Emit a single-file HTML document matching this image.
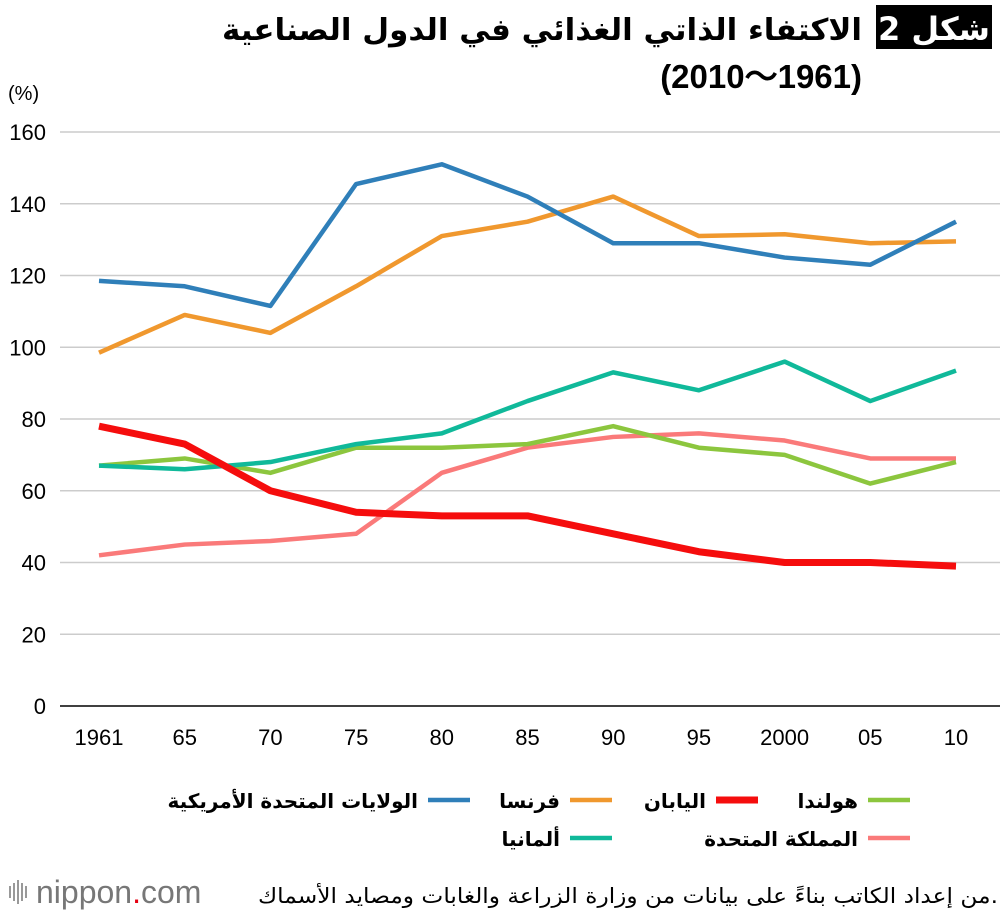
<!DOCTYPE html>
<html><head><meta charset="utf-8"><style>
body{margin:0;background:#fff;width:1000px;height:916px;overflow:hidden}
svg text{font-family:"Liberation Sans","DejaVu Sans",sans-serif}
.ar{font-family:"DejaVu Sans","Noto Sans CJK SC",sans-serif;font-weight:bold}
</style></head><body>
<svg id="c" width="1000" height="916" xmlns="http://www.w3.org/2000/svg">
<rect x="876" y="5" width="116" height="44" fill="#000"/>
<text x="934" y="40" fill="#fff" font-size="32" text-anchor="middle" class="ar">شكل 2</text>
<text x="862" y="40" font-size="30" text-anchor="end" class="ar" textLength="640" lengthAdjust="spacingAndGlyphs">الاكتفاء الذاتي الغذائي في الدول الصناعية</text>
<text x="862" y="88" font-size="33" font-weight="bold" text-anchor="end">(2010〜1961)</text>
<text x="8" y="100" font-size="20">(%)</text>
<g id="grid"></g><g id="xt"></g><g id="lines"></g>
<g id="legend"></g>
<g>
<g stroke="#999" stroke-width="2"><line x1="10" y1="886" x2="10" y2="898"/><line x1="14" y1="883" x2="14" y2="901"/><line x1="18" y1="880" x2="18" y2="904"/><line x1="22" y1="883" x2="22" y2="901"/><line x1="26" y1="886" x2="26" y2="898"/></g>
<text x="36" y="903" font-size="32" fill="#777">nippon<tspan fill="#e60012">.</tspan>com</text></g>
<text x="998" y="903" font-size="21" text-anchor="end" class="ar" style="font-weight:normal" textLength="740" lengthAdjust="spacingAndGlyphs">من إعداد الكاتب بناءً على بيانات من وزارة الزراعة والغابات ومصايد الأسماك.</text>
</svg>
<script>
const categories=["1961","65","70","75","80","85","90","95","2000","05","10"];
const yTicks=[0,20,40,60,80,100,120,140,160];
const usa=[118.5,117,111.5,145.5,151,142,129,129,125,123,135];
const france=[98.5,109,104,117,131,135,142,131,131.5,129,129.5];
const japan=[78,73,60,54,53,53,48,43,40,40,39];
const netherlands=[67,69,65,72,72,73,78,72,70,62,68];
const germany=[67,66,68,73,76,85,93,88,96,85,93.5];
const uk=[42,45,46,48,65,72,75,76,74,69,69];
const NS="http://www.w3.org/2000/svg";
const X=i=>99+i*85.7, Y=v=>706-v*574/160;
function mk(t,a,p){const e=document.createElementNS(NS,t);for(const k in a)e.setAttribute(k,a[k]);p.appendChild(e);return e;}
const g=document.getElementById('grid');
yTicks.forEach(v=>{const l=mk('line',{x1:60,x2:1000,y1:Y(v),y2:Y(v),stroke:v===0?'#000':'#ccc','stroke-width':1.5},g);


const t=mk('text',{x:46,y:Y(v)+8,'font-size':22,'text-anchor':'end'},g);t.textContent=v;

});
const xt=document.getElementById('xt');
categories.forEach((c,i)=>{const t=mk('text',{x:X(i),y:745,'font-size':22,'text-anchor':'middle'},xt);t.textContent=c;

});
const series=[[uk,'#fa7a7a',4.5,'uk'],[netherlands,'#8cc63e',4.5,'netherlands'],[germany,'#10b99a',4.5,'germany'],[france,'#f0982e',4.5,'france'],[usa,'#2f7fb9',4.5,'usa'],[japan,'#f50d0d',7,'japan']];
const lg=document.getElementById('lines');
series.forEach(s=>{const p=mk('polyline',{points:s[0].map((v,i)=>X(i)+','+Y(v)).join(' '),fill:'none',stroke:s[1],'stroke-width':s[2],'stroke-linejoin':'round'},lg);

});
const legendItems=[['الولايات المتحدة الأمريكية','#2f7fb9',470,800,4.5],['فرنسا','#f0982e',612,800,4.5],['اليابان','#f50d0d',758,800,7],['هولندا','#8cc63e',910,800,4.5],['ألمانيا','#10b99a',612,838,4.5],['المملكة المتحدة','#fa7a7a',910,838,4.5]];
const lgd=document.getElementById('legend');
legendItems.forEach(it=>{const l=mk('line',{x1:it[2]-42,x2:it[2],y1:it[3],y2:it[3],stroke:it[1],'stroke-width':it[4]},lgd);


const t=mk('text',{x:it[2]-52,y:it[3]+8,'font-size':20,'text-anchor':'end','class':'ar'},lgd);t.textContent=it[0];

});
</script>
</body></html>
